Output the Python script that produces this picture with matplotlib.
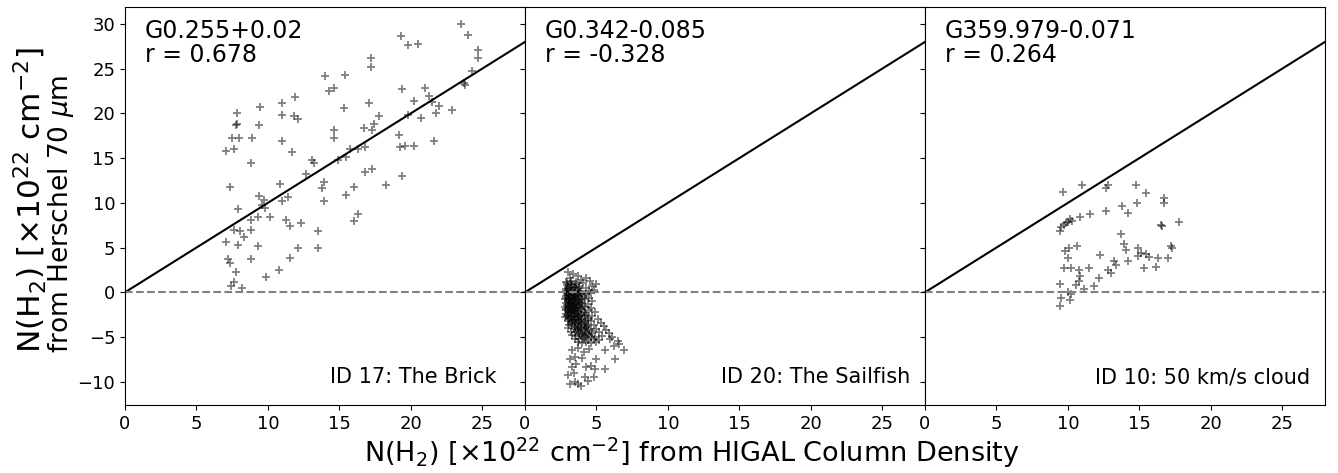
import matplotlib.pyplot as plt
import numpy as np

# panel names / labels
names = ['G0.255+0.02', 'G0.342-0.085', 'G359.979-0.071']
r_vals = [0.678, -0.328, 0.264]
ids = ['ID 17: The Brick', 'ID 20: The Sailfish', 'ID 10: 50 km/s cloud']

# ID 17: The Brick  (x = HIGAL, y = Herschel 70um)
brick = [
    (23.5, 30.0), (24.0, 28.8), (19.3, 28.7), (19.8, 27.7), (20.5, 27.8), (24.7, 27.1),
    (24.7, 26.2), (17.2, 26.2), (17.2, 25.2), (24.3, 24.7), (14.0, 24.2), (15.4, 24.3),
    (14.3, 22.5), (14.6, 22.8), (19.4, 22.7), (21.0, 22.8), (23.7, 23.4), (23.8, 23.2),
    (11.9, 21.8), (11.0, 21.2), (9.45, 20.7), (7.86, 20.0), (11.0, 19.8), (11.8, 19.7),
    (12.1, 19.4), (15.3, 20.6), (17.1, 21.2), (20.2, 21.4), (21.3, 21.9), (21.5, 21.3),
    (22.0, 20.8), (22.9, 20.4), (21.8, 20.1), (19.8, 19.8), (20.7, 19.5), (17.8, 19.7),
    (7.77, 18.7), (7.85, 18.8), (9.4, 18.7), (17.4, 18.8), (16.7, 18.4), (17.3, 18.2),
    (14.6, 18.1), (14.6, 17.2), (7.47, 17.2), (7.98, 17.2), (8.91, 17.3), (19.2, 17.6),
    (11.0, 16.9), (7.05, 15.8), (7.65, 16.0), (19.25, 16.3), (19.6, 16.4), (20.2, 16.4),
    (21.6, 16.9), (11.7, 15.7), (15.75, 16.0), (16.3, 16.0), (16.8, 16.3), (8.82, 14.5),
    (13.1, 14.8), (13.2, 14.5), (14.9, 14.8), (15.5, 15.1), (12.7, 13.2), (16.8, 13.4),
    (17.3, 13.8), (19.4, 13.0), (18.3, 12.0), (7.35, 11.8), (10.85, 12.1), (13.95, 12.3),
    (13.8, 11.7), (16.05, 11.8), (15.5, 10.9), (9.4, 10.8), (9.7, 10.3), (11.4, 10.7),
    (11.0, 10.2), (13.9, 10.2), (9.6, 9.8), (9.8, 9.45), (7.9, 9.3), (8.8, 8.1),
    (9.3, 8.4), (10.15, 8.4), (11.25, 8.1), (12.3, 7.8), (11.55, 7.4), (16.3, 8.8),
    (16.0, 8.0), (7.6, 7.0), (8.05, 6.9), (8.8, 7.0), (8.3, 6.2), (7.05, 5.6),
    (7.9, 5.3), (9.3, 5.2), (12.1, 5.0), (13.5, 6.9), (13.5, 4.9), (7.2, 3.7),
    (7.35, 3.25), (8.8, 3.7), (11.55, 3.85), (7.77, 2.25), (9.9, 1.75), (10.75, 2.5),
    (7.6, 1.1), (7.4, 0.75), (8.2, 0.5),
]

# ID 20: The Sailfish
sailfish = [
    (3.0, 2.25), (3.35, 2.0), (3.7, 1.85), (4.55, 1.3), (5.0, 0.9), (3.15, 1.65), (4.25, 1.55), (3.9, 1.4),
    (2.9, 1.2), (3.2, 1.25), (3.55, 1.1), (4.05, 1.05), (4.7, 0.7), (2.95, 0.85), (3.3, 0.8), (3.5, 0.6),
    (3.8, 0.75), (4.3, 0.5), (2.85, 0.4), (3.1, 0.35), (3.4, 0.45), (3.65, 0.3), (3.95, 0.2), (4.45, 0.1),
    (4.85, 0.3), (2.8, 0.0), (3.0, -0.05), (3.2, 0.05), (3.3, -0.1), (3.5, 0.0), (3.7, -0.05), (4.0, -0.15),
    (4.3, -0.2), (4.6, -0.1), (2.9, -0.4), (3.05, -0.35), (3.2, -0.5), (3.4, -0.45), (3.6, -0.4), (3.8, -0.5),
    (4.1, -0.45), (4.5, -0.6), (2.8, -0.8), (3.0, -0.85), (3.1, -0.75), (3.3, -0.9), (3.5, -0.8), (3.7, -0.85),
    (3.9, -0.95), (4.2, -0.8), (4.7, -1.0), (2.9, -1.2), (3.1, -1.25), (3.25, -1.15), (3.4, -1.3), (3.6, -1.2),
    (3.8, -1.3), (4.0, -1.25), (4.4, -1.35), (2.8, -1.6), (3.0, -1.65), (3.2, -1.55), (3.35, -1.7), (3.5, -1.6),
    (3.7, -1.65), (3.9, -1.75), (4.2, -1.6), (4.6, -1.7), (2.9, -2.0), (3.1, -2.05), (3.3, -1.95), (3.45, -2.1),
    (3.6, -2.0), (3.8, -2.05), (4.1, -2.15), (4.5, -2.0), (4.9, -2.2), (2.9, -2.4), (3.0, -2.5), (3.2, -2.35),
    (3.5, -2.45), (3.7, -2.4), (3.9, -2.55), (4.3, -2.5), (4.7, -2.6), (2.8, -2.8), (3.1, -2.85), (3.3, -2.75),
    (3.6, -2.9), (3.8, -2.8), (4.0, -2.95), (4.4, -2.85), (5.1, -3.0), (3.0, -3.2), (3.2, -3.25), (3.4, -3.15),
    (3.7, -3.3), (3.9, -3.2), (4.2, -3.35), (4.6, -3.25), (5.3, -3.4), (3.1, -3.6), (3.3, -3.65), (3.6, -3.55),
    (3.8, -3.7), (4.1, -3.6), (4.4, -3.75), (4.8, -3.65), (5.5, -3.8), (3.0, -4.0), (3.4, -4.05), (3.7, -3.95),
    (3.9, -4.1), (4.2, -4.0), (4.5, -4.15), (5.0, -4.05), (5.7, -4.2), (3.2, -4.4), (3.5, -4.45), (3.8, -4.35),
    (4.0, -4.5), (4.3, -4.4), (4.7, -4.55), (5.2, -4.45), (5.9, -4.6), (3.3, -4.8), (3.6, -4.85), (3.9, -4.75),
    (4.2, -4.9), (4.5, -4.8), (4.9, -4.95), (5.4, -4.85), (6.1, -5.0), (3.5, -5.2), (3.8, -5.25), (4.1, -5.15),
    (4.4, -5.3), (4.8, -5.2), (5.2, -5.35), (5.95, -5.2), (6.5, -5.4), (3.7, -5.6), (4.0, -5.65), (4.3, -5.55),
    (4.6, -5.7), (5.0, -5.6), (6.2, -6.0),
    (2.95, 1.0), (3.25, 0.95), (3.6, 0.9), (3.0, 0.6), (3.25, 0.55), (3.75, 0.5), (2.9, 0.15), (3.15, 0.2),
    (3.45, 0.2), (3.85, 0.05), (2.95, -0.2), (3.15, -0.25), (3.45, -0.25), (3.7, -0.3), (2.85, -0.6), (3.1, -0.6),
    (3.35, -0.65), (3.55, -0.6), (3.95, -0.7), (3.0, -1.0), (3.2, -1.05), (3.45, -1.0), (3.75, -1.1), (2.95, -1.4),
    (3.15, -1.45), (3.45, -1.45), (3.65, -1.4), (4.05, -1.5), (2.85, -1.85), (3.05, -1.8), (3.25, -1.85), (3.55, -1.8),
    (3.95, -1.9), (3.0, -2.2), (3.2, -2.25), (3.4, -2.3), (3.65, -2.2), (4.2, -2.3), (2.95, -2.65), (3.2, -2.6),
    (3.45, -2.65), (3.7, -2.6), (4.15, -2.7), (3.1, -3.0), (3.35, -3.05), (3.55, -3.0), (3.85, -3.05), (4.4, -3.1),
    (3.25, -3.45), (3.5, -3.4), (3.95, -3.45), (4.3, -3.5), (3.5, -3.85), (3.85, -3.85), (4.3, -3.9), (3.65, -4.25),
    (4.1, -4.25), (4.6, -4.3), (3.75, -4.65), (4.35, -4.65), (4.05, -5.05), (4.6, -5.05),
    (3.3, -6.5), (3.7, -6.2), (4.1, -6.7), (4.5, -6.3), (5.6, -6.5), (6.9, -6.5), (6.6, -5.8),
    (3.15, -7.5), (3.5, -7.2), (4.0, -7.4), (5.0, -7.5), (6.3, -7.5),
    (3.27, -8.4), (3.6, -8.0), (4.3, -8.4), (4.9, -8.6), (5.6, -8.6), (4.6, -8.2),
    (3.03, -9.3), (3.4, -9.0), (4.2, -9.5), (4.8, -9.5),
    (3.15, -10.3), (3.5, -10.0), (3.73, -10.3), (3.9, -10.45), (4.4, -9.9),
]

# ID 10: 50 km/s cloud
cloud = [
    (9.68, 11.2), (10.97, 12.0), (12.8, 12.0), (12.7, 11.65), (14.8, 12.0), (15.45, 11.1),
    (16.75, 10.5), (16.75, 10.0), (14.85, 10.0), (13.8, 9.6), (14.2, 8.9), (12.7, 9.1),
    (11.55, 8.7), (10.85, 8.4), (10.15, 8.2), (10.3, 8.0), (9.9, 7.8), (10.0, 7.9), (9.7, 7.55),
    (9.55, 7.25), (9.45, 6.8), (16.55, 7.55), (16.6, 7.45), (17.8, 7.85), (13.75, 6.5), (13.9, 5.45),
    (14.1, 4.7), (17.3, 5.0), (17.2, 5.2), (14.9, 4.9), (15.15, 4.45), (15.5, 4.25), (14.9, 4.1),
    (15.7, 3.9), (16.3, 3.8), (17.0, 3.8), (15.3, 2.75), (16.15, 2.85), (14.2, 3.5),
    (13.2, 3.5), (13.35, 3.05), (12.8, 2.45), (13.05, 2.15), (12.25, 4.15), (11.5, 2.75),
    (10.65, 5.2), (10.1, 4.9), (9.8, 4.6), (10.0, 3.8), (9.75, 2.7), (10.2, 2.75),
    (10.75, 2.45), (10.85, 1.8), (10.8, 1.25), (10.6, 0.8), (11.15, 0.35), (11.8, 0.7),
    (12.15, 1.55), (9.45, 0.9), (10.0, 0.05), (10.25, -0.2), (9.55, -0.65), (10.15, -0.9),
    (9.45, -1.5),
]

datasets = [brick, sailfish, cloud]
id_right = [0.93, 0.9625, 0.9625]

xt = [0, 5, 10, 15, 20, 25]
yt = [-10, -5, 0, 5, 10, 15, 20, 25, 30]

fig = plt.figure(figsize=(13.38, 4.73), dpi=100)
W, H = 1338, 473
axes = []
for i in range(3):
    left = (125 + 400 * i) / W
    ax = fig.add_axes([left, 68 / H, 400 / W, 398 / H])
    axes.append(ax)

line = np.array([0, 28])
for i, ax in enumerate(axes):
    pts = np.array(datasets[i])
    ax.scatter(pts[:, 0], pts[:, 1], marker='+', color='k', alpha=0.5, s=38, linewidths=1.3)
    ax.plot(line, line, color='k', lw=1.5)
    ax.axhline(0, color='gray', ls='--', lw=1.5)
    ax.set_xlim(0, 28)
    ax.set_ylim(-12.6, 31.9)
    ax.set_xticks(xt)
    ax.set_yticks(yt)
    ax.tick_params(labelsize=13)
    if i > 0:
        ax.tick_params(labelleft=False)
    ax.text(0.05, 0.97, f'{names[i]}\nr = {r_vals[i]:.3f}', transform=ax.transAxes,
            ha='left', va='top', fontsize=17, linespacing=1.0)
    ax.text(id_right[i], 0.055, ids[i], transform=ax.transAxes, ha='right', va='baseline',
            fontsize=15)

fig.text(692 / W, 3 / H, r'N(H$_2$) [$\times$10$^{22}$ cm$^{-2}$] from HIGAL Column Density',
         ha='center', va='bottom', fontsize=19.5)
# y label, two lines aligned at their start
fig.text(30 / W, 120 / H, r'N(H$_2$) [$\times$10$^{22}$ cm$^{-2}$]',
         rotation=90, ha='center', va='bottom', fontsize=22.5)
fig.text(61 / W, 120 / H, r'from Herschel 70 $\mu$m',
         rotation=90, ha='center', va='bottom', fontsize=19)

fig.savefig('out.png', dpi=100)
